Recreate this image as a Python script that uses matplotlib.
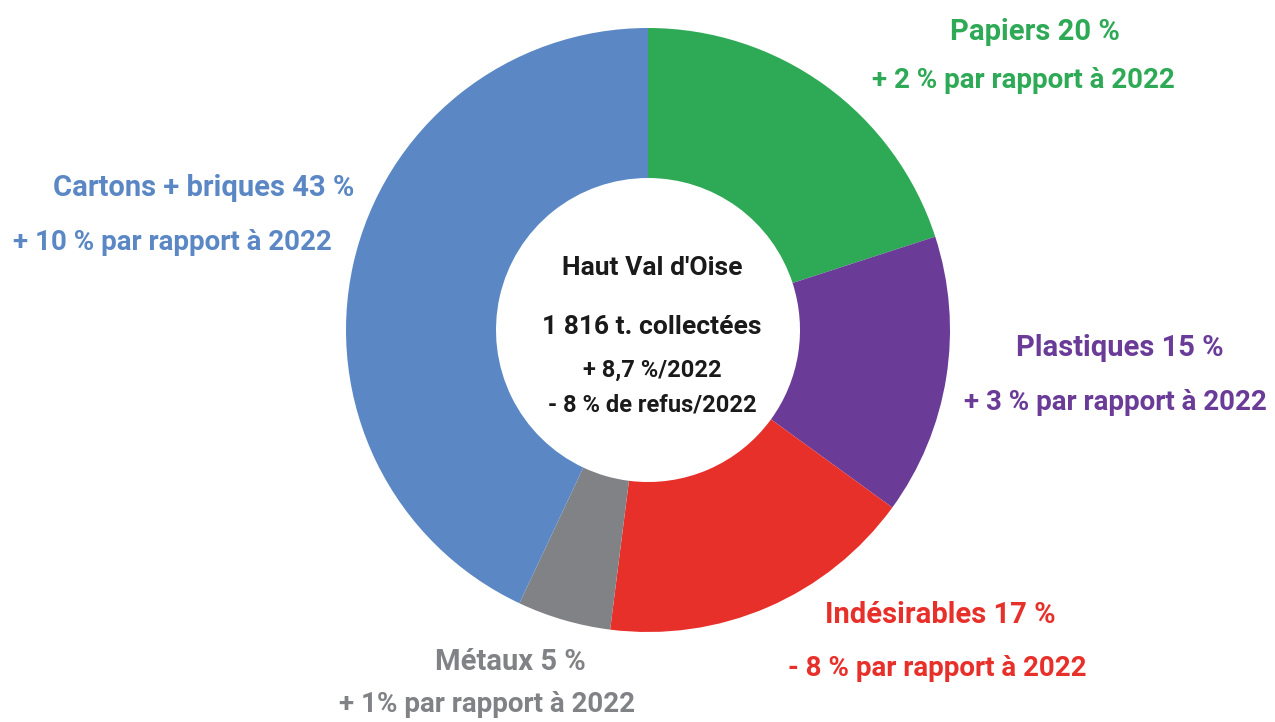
import matplotlib
matplotlib.use('Agg')
import matplotlib.pyplot as plt

plt.rcParams['font.family'] = ['Roboto', 'DejaVu Sans']

categories = ['Papiers', 'Plastiques', 'Indésirables', 'Métaux', 'Cartons + briques']
parts = [20, 15, 17, 5, 43]
changes = ['+ 2 % par rapport à 2022', '+ 3 % par rapport à 2022',
           '- 8 % par rapport à 2022', '+ 1% par rapport à 2022',
           '+ 10 % par rapport à 2022']
colors = ['#2eaa56', '#6a3b97', '#e8302b', '#808285', '#5b88c5']

center_lines = ["Haut Val d'Oise", '1 816 t. collectées', '+ 8,7 %/2022', '- 8 % de refus/2022']

fig = plt.figure(figsize=(12.75, 7.22), dpi=100)
ax = fig.add_axes([0, 0, 1, 1])

ax.pie(parts, colors=colors, radius=302, center=(648, 392), startangle=90,
       counterclock=False, wedgeprops=dict(width=150, linewidth=0))
ax.set_xlim(0, 1275)
ax.set_ylim(0, 722)
ax.set_aspect('auto')
ax.axis('off')

# label positions (pixels, origin bottom-left)
title_pos = [(1035, 690), (1120, 374), (940, 107), (510, 60), (204, 534)]
sub_pos = [(1023, 642), (1115, 320), (937, 54), (487, 17), (172, 480)]

for cat, p, ch, c, tp, sp in zip(categories, parts, changes, colors, title_pos, sub_pos):
    ax.text(tp[0], tp[1], f'{cat} {p} %', color=c, fontsize=21, fontweight='bold',
            ha='center', va='center')
    ax.text(sp[0], sp[1], ch, color=c, fontsize=20, fontweight='bold',
            ha='center', va='center')

center_y = [454, 395, 352, 317]
center_size = [19, 19, 17, 17]
for line, y, s in zip(center_lines, center_y, center_size):
    ax.text(652, y, line, color='#1a1a1a', fontsize=s, fontweight='bold',
            ha='center', va='center')

fig.savefig('out.png', dpi=100)
